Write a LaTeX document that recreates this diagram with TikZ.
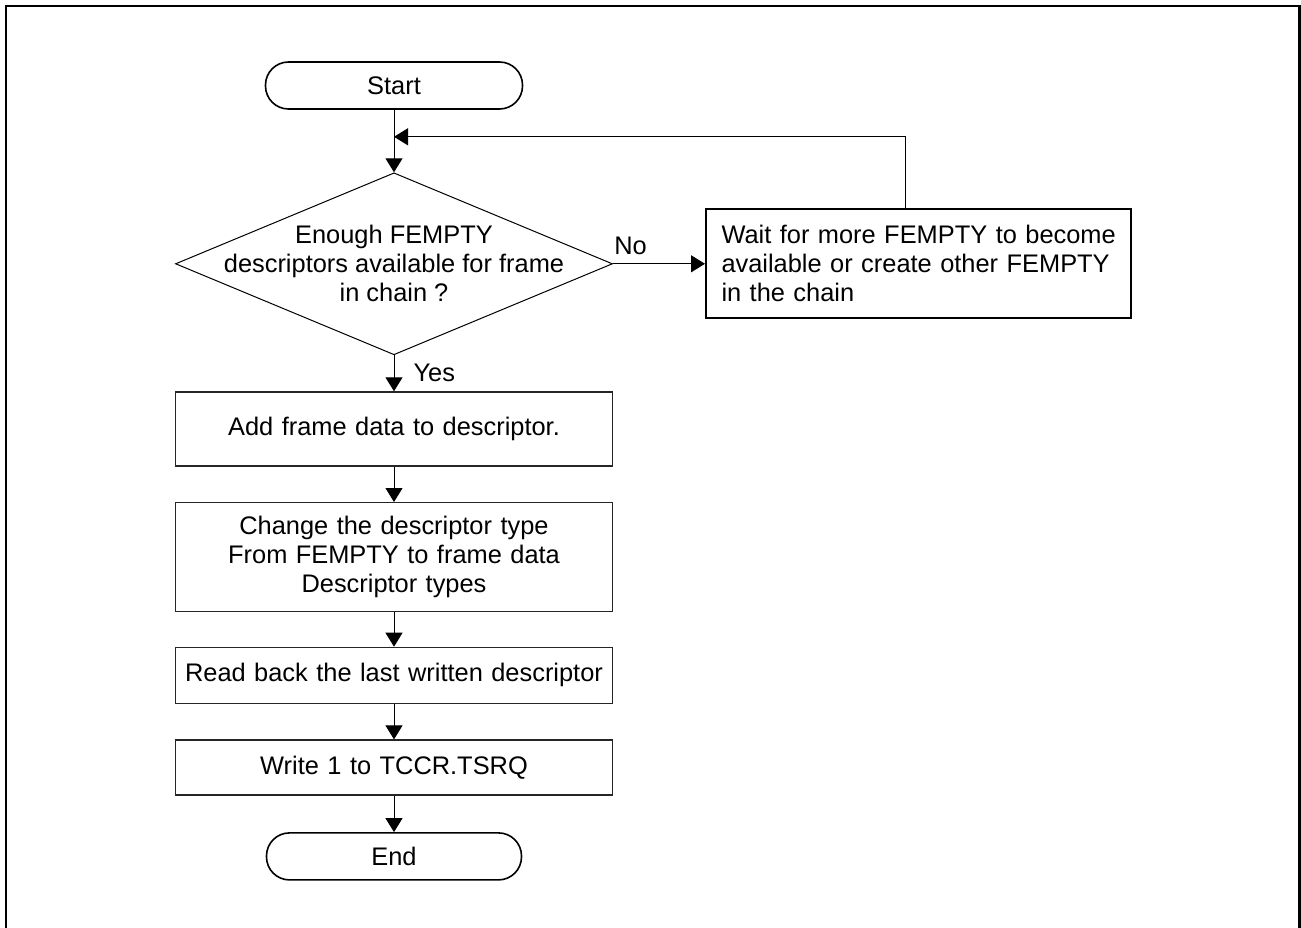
\documentclass[tikz,border=0pt]{standalone}
\usepackage{fontspec}
\setmainfont{Liberation Sans}
\usepackage{tikz}
\usetikzlibrary{shapes.geometric, arrows.meta, positioning}

\begin{document}
\begin{tikzpicture}[
    x=1pt, y=1pt,
    every node/.style={font=\fontsize{25.4pt}{29pt}\selectfont},
    terminal/.style={rectangle, rounded corners=23pt, draw=black, line width=1.6pt, minimum width=257pt, minimum height=47pt, inner sep=0pt},
    decision/.style={diamond, draw=black, line width=1pt, align=center, aspect=2.4, inner ysep=0pt, inner xsep=-70pt, minimum width=437pt, minimum height=182pt},
    process/.style={rectangle, draw=black!85, line width=1.2pt, text width=425pt, align=center, inner xsep=6pt, inner ysep=0pt},
    waitbox/.style={rectangle, draw=black, line width=2pt, text width=404pt, align=left, minimum height=109pt, inner xsep=10.5pt, inner ysep=0pt},
    lbl/.style={inner sep=2pt},
    arrow/.style={-{Triangle[length=14pt, width=17pt]}, line width=1pt, draw=black}
]

\useasboundingbox (0,0) rectangle (1301,-928);
\draw[line width=2.5pt] (6,-935) -- (6,-6) -- (1299.5,-6) -- (1299.5,-935);

\node[terminal] (start) at (394,-85.5) {Start};

\node[decision, below=62.5pt of start] (decide) {Enough FEMPTY\\descriptors available for frame\\in chain ?};

\node[waitbox, right=92pt of decide] (wait) {\hspace*{5pt}Wait for more FEMPTY to become\\\hspace*{5pt}available or create other FEMPTY\\\hspace*{5pt}in the chain};

\node[process, minimum height=74pt, below=36pt of decide] (addframe) {Add frame data to descriptor.};
\node[process, minimum height=109pt, below=35.5pt of addframe] (chgtype) {Change the descriptor type\\From FEMPTY to frame data\\Descriptor types};
\node[process, minimum height=56pt, below=34.5pt of chgtype] (readback) {Read back the last written descriptor};
\node[process, minimum height=55pt, below=35.5pt of readback] (tsrq) {Write 1 to TCCR.TSRQ};

\node[terminal, minimum width=255pt, below=36.5pt of tsrq] (end) {End};

\coordinate[below=27pt of start.south] (loop);

\draw[arrow] (start) -- (decide);
\draw[arrow] ([xshift=-13pt]wait.north) |- (loop);
\draw[arrow] (decide) -- node[lbl, above=7pt, pos=0.19] (no) {No} (wait);
\draw[arrow] (decide) -- node[lbl, right=17pt, midway] (yes) {Yes} (addframe);
\draw[arrow] (addframe) -- (chgtype);
\draw[arrow] (chgtype) -- (readback);
\draw[arrow] (readback) -- (tsrq);
\draw[arrow] (tsrq) -- (end);

\end{tikzpicture}
\end{document}
